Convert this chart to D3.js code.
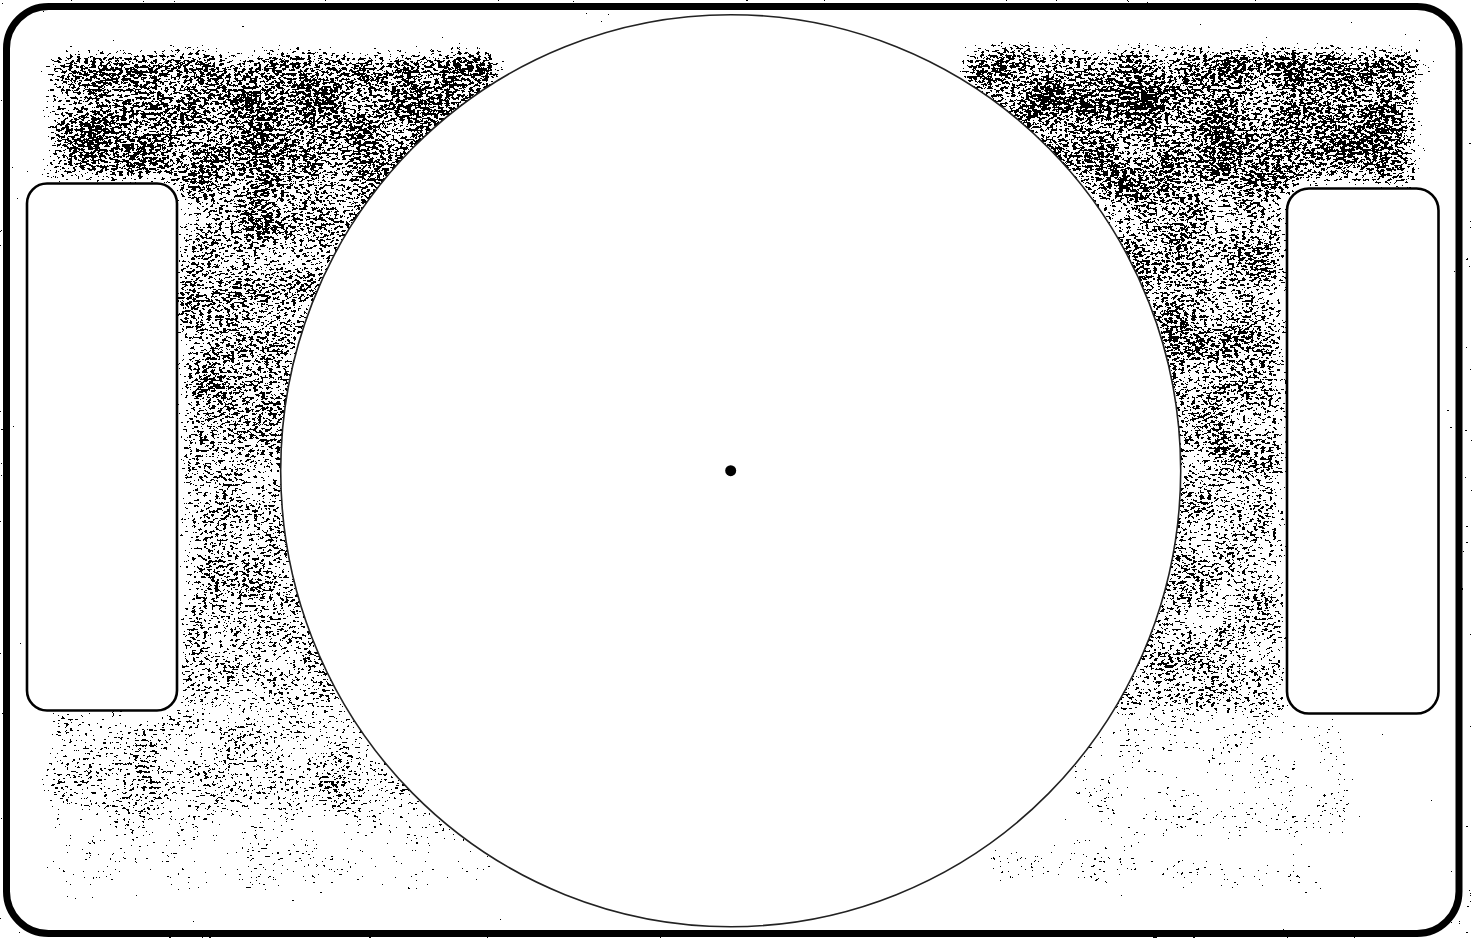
<!DOCTYPE html>
<html><head><meta charset="utf-8">
<script src="https://cdn.jsdelivr.net/npm/d3@7"></script>
<style>html,body{margin:0;padding:0;background:#fff;overflow:hidden}</style>
</head><body>
<svg id="chart"></svg>
<script>
// ---- values ----
// grain zones and their density (share of dark specks, 0..1 on the shade scale)
const zoneNames   = ["leftTop","leftStripUpper","leftStripLower","leftBottom","leftFoot",
                     "rightTop","rightStripUpper","rightStripLower","rightBottom","rightFoot"];
const zoneDensity = [1.0, 0.86, 0.76, 0.64, 0.38, 1.0, 0.88, 0.76, 0.38, 0.36];

// ---- layout ----
const W = 1472, H = 938;
const zoneBox = {
  leftTop:        [46, 50, 500, 182],
  leftStripUpper: [178, 182, 420, 450],
  leftStripLower: [178, 450, 420, 708],
  leftBottom:     [46, 712, 430, 812],
  leftFoot:       [46, 812, 500, 892],
  rightTop:       [962, 46, 1420, 188],
  rightStripUpper:[1040, 188, 1287, 450],
  rightStripLower:[1040, 450, 1287, 714],
  rightBottom:    [1050, 716, 1360, 840],
  rightFoot:      [975, 850, 1320, 892]
};

const shade = d3.scaleLinear().domain([0, 1]).range(["#000", "#fff"]);

const svg = d3.select("#chart").attr("width", W).attr("height", H)
  .attr("viewBox", `0 0 ${W} ${H}`);

const defs = svg.append("defs");
const f = defs.append("filter").attr("id", "grain")
  .attr("filterUnits", "userSpaceOnUse").attr("primitiveUnits", "userSpaceOnUse")
  .attr("x", 0).attr("y", 0).attr("width", W).attr("height", H)
  .attr("color-interpolation-filters", "sRGB");
f.append("feGaussianBlur").attr("in", "SourceGraphic").attr("stdDeviation", 9).attr("result", "dens");
f.append("feTurbulence").attr("type", "fractalNoise").attr("baseFrequency", "0.26 0.38")
  .attr("numOctaves", 3).attr("seed", 11).attr("result", "noise");
f.append("feColorMatrix").attr("in", "noise").attr("type", "matrix")
  .attr("values", "1 0 0 0 0  1 0 0 0 0  1 0 0 0 0  0 0 0 0 1").attr("result", "ng");
f.append("feTurbulence").attr("type", "fractalNoise").attr("baseFrequency", "0.025")
  .attr("numOctaves", 2).attr("seed", 4).attr("result", "low");
f.append("feColorMatrix").attr("in", "low").attr("type", "matrix")
  .attr("values", "0 1 0 0 0  0 1 0 0 0  0 1 0 0 0  0 0 0 0 1").attr("result", "lg");
f.append("feComposite").attr("in", "ng").attr("in2", "lg").attr("operator", "arithmetic")
  .attr("k1", 0).attr("k2", 1).attr("k3", 0.3).attr("k4", -0.15).attr("result", "mix");
f.append("feComposite").attr("in", "mix").attr("in2", "dens").attr("operator", "arithmetic")
  .attr("k1", 0).attr("k2", 1).attr("k3", 0.42).attr("k4", -0.42).attr("result", "sum");
f.append("feColorMatrix").attr("in", "sum").attr("type", "matrix")
  .attr("values", "1 0 0 0 0  0 1 0 0 0  0 0 1 0 0  0 0 0 0 1").attr("result", "opaque");
const ct = f.append("feComponentTransfer").attr("in", "opaque");
["feFuncR", "feFuncG", "feFuncB"].forEach(n => ct.append(n).attr("type", "discrete").attr("tableValues", "1 0"));

// grain layer
const g = svg.append("g").attr("filter", "url(#grain)");
g.append("rect").attr("width", W).attr("height", H).attr("fill", "#000");
g.selectAll("rect.zone").data(zoneNames).join("rect").attr("class", "zone")
  .attr("x", d => zoneBox[d][0]).attr("y", d => zoneBox[d][1])
  .attr("width", d => zoneBox[d][2] - zoneBox[d][0])
  .attr("height", d => zoneBox[d][3] - zoneBox[d][1])
  .attr("fill", (d, i) => shade(zoneDensity[i]));

// platter
const cx = 730.7, cy = 470.7;
svg.append("ellipse").attr("cx", cx).attr("cy", cy).attr("rx", 450).attr("ry", 456)
  .attr("fill", "#fff").attr("stroke", "#222").attr("stroke-width", 1.6);
svg.append("circle").attr("cx", cx).attr("cy", cy).attr("r", 5.5).attr("fill", "#000");

// side panels
svg.append("rect").attr("x", 27).attr("y", 183.5).attr("width", 150).attr("height", 527)
  .attr("rx", 20).attr("fill", "#fff").attr("stroke", "#000").attr("stroke-width", 2.6);
svg.append("rect").attr("x", 1287).attr("y", 188.5).attr("width", 151.5).attr("height", 525)
  .attr("rx", 22).attr("fill", "#fff").attr("stroke", "#000").attr("stroke-width", 2.6);

// outer frame
svg.append("rect").attr("x", 6.5).attr("y", 6.5).attr("width", 1452.5).attr("height", 927)
  .attr("rx", 42).attr("fill", "none").attr("stroke", "#000").attr("stroke-width", 7);
</script>
</body></html>
